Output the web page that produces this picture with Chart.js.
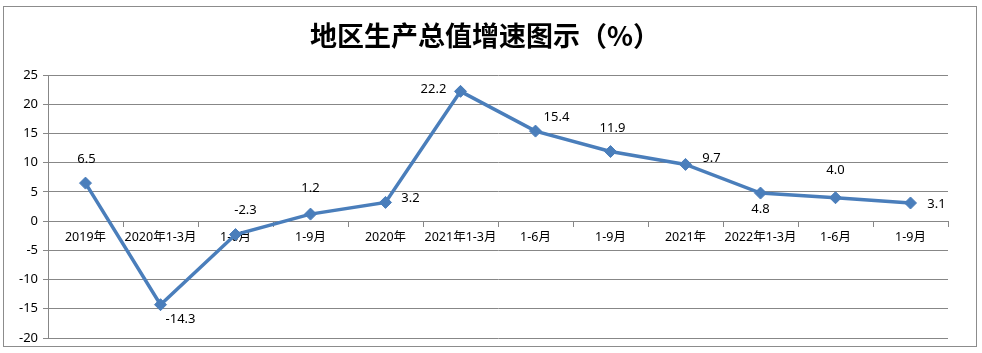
<!DOCTYPE html>
<html>
<head>
<meta charset="utf-8">
<script src="https://cdn.jsdelivr.net/npm/chart.js@4/dist/chart.umd.min.js"></script>
<style>
  html, body { margin: 0; padding: 0; background: #fff; }
  canvas { display: block; }
</style>
</head>
<body>
<canvas id="gdp-chart" width="982" height="353"></canvas>
<script>
( function() {
	'use strict';

	var titleText = '地区生产总值增速图示（%）';
	var labels = ['2019年', '2020年1-3月', '1-6月', '1-9月', '2020年', '2021年1-3月', '1-6月', '1-9月', '2021年', '2022年1-3月', '1-6月', '1-9月'];
	var growth = [6.5, -14.3, -2.3, 1.2, 3.2, 22.2, 15.4, 11.9, 9.7, 4.8, 4.0, 3.1];
	var yTicks = [-20, -15, -10, -5, 0, 5, 10, 15, 20, 25];

	var fontFamily = '"Noto Sans", "Noto Sans CJK SC", sans-serif';
	var gridColor = '#878787';
	var lineColor = '#4a7ebb';

	// where each value label sits relative to its point (dx, dy)
	var labelOffsets = [
		[1, -24], [20, 15], [10, -24], [0, -26], [25, -4], [-27, -2],
		[21, -14], [2, -23], [26, -6], [0, 16], [0, -27], [26, 1]
	];

	/**
	 * Moldura e título
	 */
	var framePlugin = {
		id: 'frame',
		beforeDraw: function(chart) {
			var ctx = chart.ctx;
			ctx.save();
			ctx.fillStyle = '#fff';
			ctx.fillRect(0, 0, chart.width, chart.height);
			ctx.strokeStyle = '#8c8c8c';
			ctx.lineWidth = 1;
			ctx.strokeRect(3.5, 6.5, 973, 340);
			ctx.fillStyle = '#000';
			ctx.font = 'bold 27px "Noto Sans CJK SC", sans-serif';
			ctx.textAlign = 'center';
			ctx.textBaseline = 'middle';
			ctx.fillText(titleText, 485, 36);
			ctx.restore();
		}
	};

	/**
	 * Rótulos de valores
	 */
	var valueLabels = {
		id: 'valueLabels',
		afterDatasetsDraw: function(chart) {
			var ctx = chart.ctx;
			var meta = chart.getDatasetMeta(0);
			ctx.save();
			ctx.fillStyle = '#000';
			ctx.font = '13px ' + fontFamily;
			ctx.textAlign = 'center';
			ctx.textBaseline = 'middle';
			meta.data.forEach(function(pt, i) {
				var off = labelOffsets[i];
				ctx.fillText(growth[i].toFixed(1), pt.x + off[0], pt.y + off[1]);
			});
			ctx.restore();
		}
	};

	var dataChart = {
		labels: labels,
		datasets: [
			{
				label: '增速',
				data: growth,
				borderColor: lineColor,
				backgroundColor: lineColor,
				borderWidth: 3.5,
				pointStyle: 'rectRot',
				pointRadius: 6,
				pointBorderWidth: 1,
				pointBackgroundColor: lineColor,
				pointBorderColor: lineColor,
				tension: 0
			}
		]
	};

	var ctx = document.getElementById('gdp-chart');
	var chartLine = new Chart(ctx, {
		type: 'line',
		data: dataChart,
		plugins: [framePlugin, valueLabels],
		options: {
			responsive: false,
			animation: false,
			layout: { padding: { top: 75, right: 34, bottom: 15, left: 0 } },
			plugins: {
				legend: { display: false },
				title: { display: false },
				tooltip: { enabled: false }
			},
			scales: {
				x: {
					position: { y: 0 },
					offset: true,
					afterFit: function(scale) { scale.height = 0; },
					grid: {
						offset: true,
						drawOnChartArea: false,
						drawTicks: true,
						tickLength: 5,
						color: gridColor
					},
					border: { display: true, color: gridColor },
					ticks: {
						color: '#000',
						padding: 4,
						maxRotation: 0,
						autoSkip: false,
						font: { family: fontFamily, size: 12.5 }
					}
				},
				y: {
					min: yTicks[0],
					max: yTicks[yTicks.length - 1],
					afterFit: function(scale) { scale.width = 48; },
					afterBuildTicks: function(scale) {
						scale.ticks = yTicks.map(function(v) { return { value: v }; });
					},
					grid: {
						color: gridColor,
						tickLength: 5
					},
					border: { display: true, color: gridColor },
					ticks: {
						color: '#000',
						padding: 5,
						font: { family: fontFamily, size: 13 }
					}
				}
			}
		}
	});
})();
</script>
</body>
</html>
